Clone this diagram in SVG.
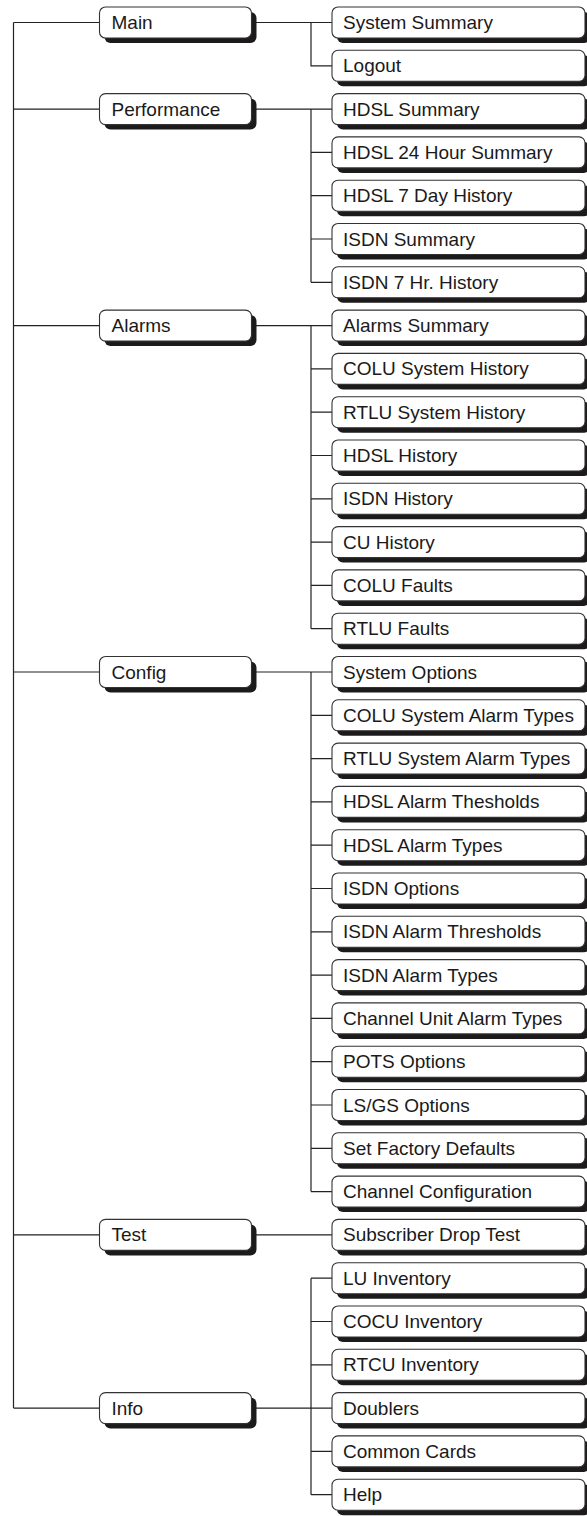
<svg xmlns="http://www.w3.org/2000/svg" width="587" height="1516" viewBox="0 0 587 1516">
<style>
.sh{fill:#1c1a1a;stroke:none}
.bx{fill:#ffffff;stroke:#333;stroke-width:1.1}
.t{font-family:"Liberation Sans",Arial,sans-serif;font-size:19px;fill:#1a1a1a}
.c{fill:none;stroke:#222;stroke-width:1.2}
</style>
<defs>
<g id="sub"><rect class="sh" x="5" y="5" width="253" height="31" rx="6"/><rect class="bx" x="0" y="0" width="253" height="31" rx="6"/></g>
<g id="top"><rect class="sh" x="5" y="5" width="152" height="31" rx="6"/><rect class="bx" x="0" y="0" width="152" height="31" rx="6"/></g>
</defs>
<g id="connectors">
<path class="c" d="M13.5 22.5V1408.1"/>
<path class="c" d="M13.5 22.5H99.5M13.5 109.1H99.5M13.5 325.6H99.5M13.5 672H99.5M13.5 1234.9H99.5M13.5 1408.1H99.5"/>
<path class="c" d="M251.5 22.5H332M251.5 109.1H332M251.5 325.6H332M251.5 672H332M251.5 1234.9H332M251.5 1408.1H332"/>
<path class="c" d="M311 22.5V65.8H332"/>
<path class="c" d="M311 109.1V282.3M311 152.4H332M311 195.7H332M311 239H332M311 282.3H332"/>
<path class="c" d="M311 325.6V628.7M311 368.9H332M311 412.2H332M311 455.5H332M311 498.8H332M311 542.1H332M311 585.4H332M311 628.7H332"/>
<path class="c" d="M311 672V1191.6M311 715.3H332M311 758.6H332M311 801.9H332M311 845.2H332M311 888.5H332M311 931.8H332M311 975.1H332M311 1018.4H332M311 1061.7H332M311 1105H332M311 1148.3H332M311 1191.6H332"/>
<path class="c" d="M311 1278.2V1494.7M311 1278.2H332M311 1321.5H332M311 1364.8H332M311 1451.4H332M311 1494.7H332"/>
</g>
<g id="n-main" transform="translate(99.5,7)"><use href="#top"/><text class="t" x="12" y="22">Main</text></g>
<g id="n-performance" transform="translate(99.5,93.6)"><use href="#top"/><text class="t" x="12" y="22">Performance</text></g>
<g id="n-alarms" transform="translate(99.5,310.1)"><use href="#top"/><text class="t" x="12" y="22">Alarms</text></g>
<g id="n-config" transform="translate(99.5,656.5)"><use href="#top"/><text class="t" x="12" y="22">Config</text></g>
<g id="n-test" transform="translate(99.5,1219.4)"><use href="#top"/><text class="t" x="12" y="22">Test</text></g>
<g id="n-info" transform="translate(99.5,1392.6)"><use href="#top"/><text class="t" x="12" y="22">Info</text></g>
<g id="s00" transform="translate(332,7)"><use href="#sub"/><text class="t" x="11" y="22">System Summary</text></g>
<g id="s01" transform="translate(332,50.3)"><use href="#sub"/><text class="t" x="11" y="22">Logout</text></g>
<g id="s02" transform="translate(332,93.6)"><use href="#sub"/><text class="t" x="11" y="22">HDSL Summary</text></g>
<g id="s03" transform="translate(332,136.9)"><use href="#sub"/><text class="t" x="11" y="22">HDSL 24 Hour Summary</text></g>
<g id="s04" transform="translate(332,180.2)"><use href="#sub"/><text class="t" x="11" y="22">HDSL 7 Day History</text></g>
<g id="s05" transform="translate(332,223.5)"><use href="#sub"/><text class="t" x="11" y="22">ISDN Summary</text></g>
<g id="s06" transform="translate(332,266.8)"><use href="#sub"/><text class="t" x="11" y="22">ISDN 7 Hr. History</text></g>
<g id="s07" transform="translate(332,310.1)"><use href="#sub"/><text class="t" x="11" y="22">Alarms Summary</text></g>
<g id="s08" transform="translate(332,353.4)"><use href="#sub"/><text class="t" x="11" y="22">COLU System History</text></g>
<g id="s09" transform="translate(332,396.7)"><use href="#sub"/><text class="t" x="11" y="22">RTLU System History</text></g>
<g id="s10" transform="translate(332,440)"><use href="#sub"/><text class="t" x="11" y="22">HDSL History</text></g>
<g id="s11" transform="translate(332,483.3)"><use href="#sub"/><text class="t" x="11" y="22">ISDN History</text></g>
<g id="s12" transform="translate(332,526.6)"><use href="#sub"/><text class="t" x="11" y="22">CU History</text></g>
<g id="s13" transform="translate(332,569.9)"><use href="#sub"/><text class="t" x="11" y="22">COLU Faults</text></g>
<g id="s14" transform="translate(332,613.2)"><use href="#sub"/><text class="t" x="11" y="22">RTLU Faults</text></g>
<g id="s15" transform="translate(332,656.5)"><use href="#sub"/><text class="t" x="11" y="22">System Options</text></g>
<g id="s16" transform="translate(332,699.8)"><use href="#sub"/><text class="t" x="11" y="22">COLU System Alarm Types</text></g>
<g id="s17" transform="translate(332,743.1)"><use href="#sub"/><text class="t" x="11" y="22">RTLU System Alarm Types</text></g>
<g id="s18" transform="translate(332,786.4)"><use href="#sub"/><text class="t" x="11" y="22">HDSL Alarm Thesholds</text></g>
<g id="s19" transform="translate(332,829.7)"><use href="#sub"/><text class="t" x="11" y="22">HDSL Alarm Types</text></g>
<g id="s20" transform="translate(332,873)"><use href="#sub"/><text class="t" x="11" y="22">ISDN Options</text></g>
<g id="s21" transform="translate(332,916.3)"><use href="#sub"/><text class="t" x="11" y="22">ISDN Alarm Thresholds</text></g>
<g id="s22" transform="translate(332,959.6)"><use href="#sub"/><text class="t" x="11" y="22">ISDN Alarm Types</text></g>
<g id="s23" transform="translate(332,1002.9)"><use href="#sub"/><text class="t" x="11" y="22">Channel Unit Alarm Types</text></g>
<g id="s24" transform="translate(332,1046.2)"><use href="#sub"/><text class="t" x="11" y="22">POTS Options</text></g>
<g id="s25" transform="translate(332,1089.5)"><use href="#sub"/><text class="t" x="11" y="22">LS/GS Options</text></g>
<g id="s26" transform="translate(332,1132.8)"><use href="#sub"/><text class="t" x="11" y="22">Set Factory Defaults</text></g>
<g id="s27" transform="translate(332,1176.1)"><use href="#sub"/><text class="t" x="11" y="22">Channel Configuration</text></g>
<g id="s28" transform="translate(332,1219.4)"><use href="#sub"/><text class="t" x="11" y="22">Subscriber Drop Test</text></g>
<g id="s29" transform="translate(332,1262.7)"><use href="#sub"/><text class="t" x="11" y="22">LU Inventory</text></g>
<g id="s30" transform="translate(332,1306)"><use href="#sub"/><text class="t" x="11" y="22">COCU Inventory</text></g>
<g id="s31" transform="translate(332,1349.3)"><use href="#sub"/><text class="t" x="11" y="22">RTCU Inventory</text></g>
<g id="s32" transform="translate(332,1392.6)"><use href="#sub"/><text class="t" x="11" y="22">Doublers</text></g>
<g id="s33" transform="translate(332,1435.9)"><use href="#sub"/><text class="t" x="11" y="22">Common Cards</text></g>
<g id="s34" transform="translate(332,1479.2)"><use href="#sub"/><text class="t" x="11" y="22">Help</text></g>
</svg>
